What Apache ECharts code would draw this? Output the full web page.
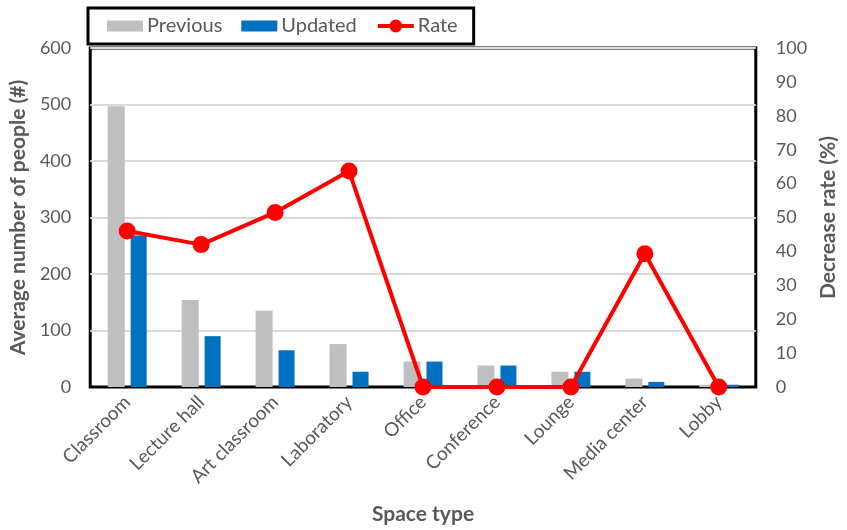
<!DOCTYPE html>
<html>
<head>
<meta charset="utf-8">
<script src="https://cdn.jsdelivr.net/npm/echarts@6/dist/echarts.min.js"></script>
<style>
  html, body { margin: 0; padding: 0; background: #fff; }
  #chart { width: 847px; height: 530px; }
</style>
</head>
<body>
<div id="chart"></div>
<script>
// Space types on the category axis
const categories = ['Classroom', 'Lecture hall', 'Art classroom', 'Laboratory', 'Office',
                    'Conference', 'Lounge', 'Media center', 'Lobby'];
// Average number of people per space type
const previousValues = [497, 154, 135, 76, 45, 38, 27, 15, 4];
const updatedValues  = [268, 90, 65, 27, 45, 38, 27, 9, 4];
// Decrease rate (%)
const rateValues = [46, 42, 51.5, 63.7, 0, 0, 0, 39.3, 0];
// Axis ranges
const leftAxisMax = 600, leftAxisStep = 100;
const rightAxisMax = 100, rightAxisStep = 10;

const FONT = 'Lato, "Open Sans", sans-serif';
const GREY_TEXT = '#595959';
// flat rectangle used as the bar swatch in the legend
const SWATCH = 'path://M0,0H36V11H0Z';

const chart = echarts.init(document.getElementById('chart'), null, { renderer: 'canvas' });

chart.setOption({
  animation: false,
  backgroundColor: '#ffffff',
  textStyle: { fontFamily: FONT },
  legend: {
    left: 88,
    top: 8,
    padding: [8, 16, 8, 19],
    itemGap: 19,
    itemWidth: 36,
    itemHeight: 16,
    symbolKeepAspect: true,
    borderColor: '#000',
    borderWidth: 3,
    backgroundColor: '#fff',
    textStyle: { fontSize: 20, color: GREY_TEXT, fontFamily: FONT, padding: [0, 0, 0, -1] },
    data: [
      { name: 'Previous', icon: SWATCH },
      { name: 'Updated', icon: SWATCH },
      { name: 'Rate', lineStyle: { width: 4, color: '#ff0000' } }
    ]
  },
  grid: {
    left: 88,
    right: 81,
    top: 48,
    bottom: 141,
    show: true,
    borderColor: '#000',
    borderWidth: 3,
    backgroundColor: 'transparent'
  },
  xAxis: {
    type: 'category',
    data: categories,
    name: 'Space type',
    nameLocation: 'middle',
    nameGap: 117,
    nameTextStyle: { fontSize: 21, fontWeight: 'bold', color: GREY_TEXT, fontFamily: FONT },
    axisLine: { show: true, lineStyle: { color: '#000', width: 2 } },
    axisTick: { show: false },
    axisLabel: {
      rotate: 45,
      interval: 0,
      margin: 12,
      fontSize: 19,
      color: GREY_TEXT,
      fontFamily: FONT
    }
  },
  yAxis: [
    {
      type: 'value',
      min: 0,
      max: leftAxisMax,
      interval: leftAxisStep,
      name: 'Average number of people (#)',
      nameLocation: 'middle',
      nameGap: 54,
      nameRotate: 90,
      nameTextStyle: { fontSize: 21, fontWeight: 'bold', color: GREY_TEXT, fontFamily: FONT },
      axisLine: { show: false },
      axisTick: { show: false },
      axisLabel: { fontSize: 18, color: GREY_TEXT, margin: 19, fontFamily: FONT },
      splitLine: { show: true, lineStyle: { color: '#d9d9d9', width: 2 } }
    },
    {
      type: 'value',
      min: 0,
      max: rightAxisMax,
      interval: rightAxisStep,
      position: 'right',
      name: 'Decrease rate (%)',
      nameLocation: 'middle',
      nameGap: 62,
      nameRotate: 90,
      nameTextStyle: { fontSize: 21, fontWeight: 'bold', color: GREY_TEXT, fontFamily: FONT },
      axisLine: { show: false },
      axisTick: { show: false },
      axisLabel: { fontSize: 18, color: GREY_TEXT, margin: 20, fontFamily: FONT },
      splitLine: { show: false }
    }
  ],
  series: [
    {
      name: 'Previous',
      type: 'bar',
      data: previousValues,
      barWidth: 17,
      barGap: '35%',
      itemStyle: { color: '#bfbfbf' },
      z: 2
    },
    {
      name: 'Updated',
      type: 'bar',
      data: updatedValues,
      barWidth: 16,
      barGap: '35%',
      itemStyle: { color: '#0070c0' },
      z: 2
    },
    {
      name: 'Rate',
      type: 'line',
      yAxisIndex: 1,
      data: rateValues,
      symbol: 'circle',
      symbolSize: 17,
      lineStyle: { color: '#ff0000', width: 4 },
      itemStyle: { color: '#ff0000' },
      z: 5
    }
  ]
});
</script>
</body>
</html>
